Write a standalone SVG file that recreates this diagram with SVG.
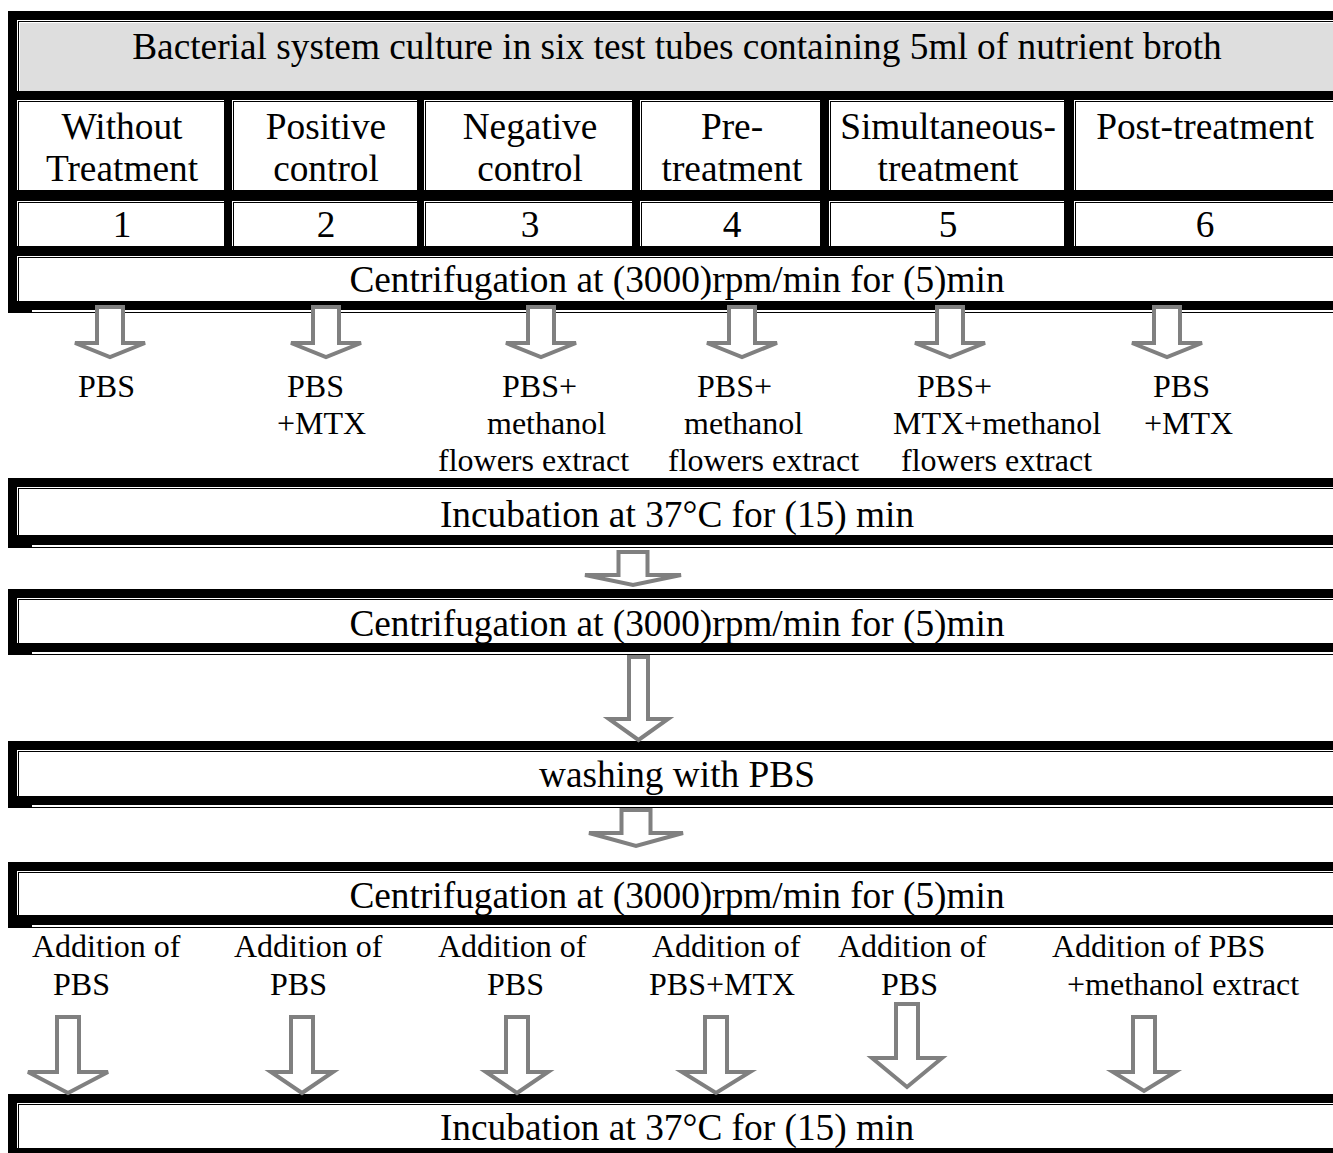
<svg xmlns="http://www.w3.org/2000/svg" width="1333" height="1153" viewBox="0 0 1333 1153">
<style>
.k{fill:#000}.w{fill:#fff}.g{fill:#dedede}
.t{font-family:"Liberation Serif","Times New Roman",serif;font-size:37.33px;fill:#000;text-anchor:middle}
.s{font-family:"Liberation Serif","Times New Roman",serif;font-size:32px;fill:#000}
.arr{fill:#fff;stroke:#808080;stroke-width:4}
</style>
<rect width="1333" height="1153" fill="#fff"/>
<g id="table-top">
<rect class="k" x="8" y="11" width="1332" height="299"/>
<rect class="k" x="8" y="310" width="24" height="3"/>
<rect class="k" x="32" y="312" width="1308" height="1"/>
<g id="header">
<rect class="w" x="17" y="20" width="1323" height="71"/><rect class="k" x="18" y="21" width="1322" height="70"/><rect class="w" x="19" y="22" width="1321" height="69"/><rect class="g" x="20" y="23" width="1320" height="68"/>
<text class="t" x="677" y="59">Bacterial system culture in six test tubes containing 5ml of nutrient broth</text>
</g>
<g id="c1">
<rect class="w" x="17" y="100" width="207" height="90"/><rect class="k" x="18" y="101" width="206" height="89"/><rect class="w" x="19" y="102" width="205" height="88"/>
<text class="t" x="122" y="139">Without</text><text class="t" x="122" y="181">Treatment</text>
</g>
<g id="c2">
<rect class="w" x="232" y="100" width="185" height="90"/><rect class="k" x="233" y="101" width="184" height="89"/><rect class="w" x="234" y="102" width="183" height="88"/>
<text class="t" x="326" y="139">Positive</text><text class="t" x="326" y="181">control</text>
</g>
<g id="c3">
<rect class="w" x="424" y="100" width="208" height="90"/><rect class="k" x="425" y="101" width="207" height="89"/><rect class="w" x="426" y="102" width="206" height="88"/>
<text class="t" x="530" y="139">Negative</text><text class="t" x="530" y="181">control</text>
</g>
<g id="c4">
<rect class="w" x="640" y="100" width="180" height="90"/><rect class="k" x="641" y="101" width="179" height="89"/><rect class="w" x="642" y="102" width="178" height="88"/>
<text class="t" x="732" y="139">Pre-</text><text class="t" x="732" y="181">treatment</text>
</g>
<g id="c5">
<rect class="w" x="829" y="100" width="235" height="90"/><rect class="k" x="830" y="101" width="234" height="89"/><rect class="w" x="831" y="102" width="233" height="88"/>
<text class="t" x="948" y="139">Simultaneous-</text><text class="t" x="948" y="181">treatment</text>
</g>
<g id="c6">
<rect class="w" x="1074" y="100" width="266" height="90"/><rect class="k" x="1075" y="101" width="265" height="89"/><rect class="w" x="1076" y="102" width="264" height="88"/>
<text class="t" x="1205" y="139">Post-treatment</text>
</g>
<g id="n1">
<rect class="w" x="17" y="201" width="207" height="45"/><rect class="k" x="18" y="202" width="206" height="44"/><rect class="w" x="19" y="203" width="205" height="43"/>
<text class="t" x="122" y="237">1</text>
</g>
<g id="n2">
<rect class="w" x="232" y="201" width="185" height="45"/><rect class="k" x="233" y="202" width="184" height="44"/><rect class="w" x="234" y="203" width="183" height="43"/>
<text class="t" x="326" y="237">2</text>
</g>
<g id="n3">
<rect class="w" x="424" y="201" width="208" height="45"/><rect class="k" x="425" y="202" width="207" height="44"/><rect class="w" x="426" y="203" width="206" height="43"/>
<text class="t" x="530" y="237">3</text>
</g>
<g id="n4">
<rect class="w" x="640" y="201" width="180" height="45"/><rect class="k" x="641" y="202" width="179" height="44"/><rect class="w" x="642" y="203" width="178" height="43"/>
<text class="t" x="732" y="237">4</text>
</g>
<g id="n5">
<rect class="w" x="829" y="201" width="235" height="45"/><rect class="k" x="830" y="202" width="234" height="44"/><rect class="w" x="831" y="203" width="233" height="43"/>
<text class="t" x="948" y="237">5</text>
</g>
<g id="n6">
<rect class="w" x="1074" y="201" width="266" height="45"/><rect class="k" x="1075" y="202" width="265" height="44"/><rect class="w" x="1076" y="203" width="264" height="43"/>
<text class="t" x="1205" y="237">6</text>
</g>
<g id="centrifuge1">
<rect class="w" x="17" y="256" width="1323" height="45"/><rect class="k" x="18" y="257" width="1322" height="44"/><rect class="w" x="19" y="258" width="1321" height="43"/>
<text class="t" x="677" y="292">Centrifugation at (3000)rpm/min for (5)min</text>
</g>
</g>
<g id="incubation1">
<rect class="k" x="8" y="478" width="1332" height="67"/>
<rect class="w" x="17" y="487" width="1323" height="48"/><rect class="k" x="18" y="488" width="1322" height="47"/><rect class="w" x="19" y="489" width="1321" height="46"/>
<rect class="k" x="8" y="545" width="24" height="3"/><rect class="k" x="32" y="547" width="1308" height="1"/>
<text class="t" x="677" y="527">Incubation at 37°C for (15) min</text>
</g>
<g id="centrifuge2">
<rect class="k" x="8" y="589" width="1332" height="63"/>
<rect class="w" x="17" y="598" width="1323" height="45"/><rect class="k" x="18" y="599" width="1322" height="44"/><rect class="w" x="19" y="600" width="1321" height="43"/>
<rect class="k" x="8" y="652" width="24" height="3"/><rect class="k" x="32" y="654" width="1308" height="1"/>
<text class="t" x="677" y="636">Centrifugation at (3000)rpm/min for (5)min</text>
</g>
<g id="washing">
<rect class="k" x="8" y="741" width="1332" height="64"/>
<rect class="w" x="17" y="750" width="1323" height="46"/><rect class="k" x="18" y="751" width="1322" height="45"/><rect class="w" x="19" y="752" width="1321" height="44"/>
<rect class="k" x="8" y="805" width="24" height="3"/><rect class="k" x="32" y="807" width="1308" height="1"/>
<text class="t" x="677" y="787">washing with PBS</text>
</g>
<g id="centrifuge3">
<rect class="k" x="8" y="862" width="1332" height="63"/>
<rect class="w" x="17" y="871" width="1323" height="44"/><rect class="k" x="18" y="872" width="1322" height="43"/><rect class="w" x="19" y="873" width="1321" height="42"/>
<rect class="k" x="8" y="925" width="24" height="3"/><rect class="k" x="32" y="927" width="1308" height="1"/>
<text class="t" x="677" y="908">Centrifugation at (3000)rpm/min for (5)min</text>
</g>
<g id="incubation2">
<rect class="k" x="8" y="1094" width="1332" height="66"/>
<rect class="w" x="17" y="1103" width="1323" height="45"/><rect class="k" x="18" y="1104" width="1322" height="44"/><rect class="w" x="19" y="1105" width="1321" height="43"/>
<text class="t" x="677" y="1140">Incubation at 37°C for (15) min</text>
</g>
<g id="labels-1">
<text class="s" x="78" y="397">PBS</text>
<text class="s" x="287" y="397">PBS</text><text class="s" x="277" y="434">+MTX</text>
<text class="s" x="502" y="397">PBS+</text><text class="s" x="487" y="434">methanol</text><text class="s" x="438" y="471">flowers extract</text>
<text class="s" x="697" y="397">PBS+</text><text class="s" x="684" y="434">methanol</text><text class="s" x="668" y="471">flowers extract</text>
<text class="s" x="917" y="397">PBS+</text><text class="s" x="893" y="434">MTX+methanol</text><text class="s" x="901" y="471">flowers extract</text>
<text class="s" x="1153" y="397">PBS</text><text class="s" x="1144" y="434">+MTX</text>
</g>
<g id="labels-2">
<text class="s" x="32" y="957">Addition of</text><text class="s" x="53" y="995">PBS</text>
<text class="s" x="234" y="957">Addition of</text><text class="s" x="270" y="995">PBS</text>
<text class="s" x="438" y="957">Addition of</text><text class="s" x="487" y="995">PBS</text>
<text class="s" x="652" y="957">Addition of</text><text class="s" x="649" y="995">PBS+MTX</text>
<text class="s" x="838" y="957">Addition of</text><text class="s" x="881" y="995">PBS</text>
<text class="s" x="1052" y="957">Addition of PBS</text><text class="s" x="1067" y="995">+methanol extract</text>
</g>
<g id="connectors">
<path class="arr" d="M97,307 H123 V343 H145 L110,357 L75,343 H97 Z"/>
<path class="arr" d="M313,307 H339 V343 H361 L326,357 L291,343 H313 Z"/>
<path class="arr" d="M528,307 H554 V343 H576 L541,357 L506,343 H528 Z"/>
<path class="arr" d="M729,307 H755 V343 H777 L742,357 L707,343 H729 Z"/>
<path class="arr" d="M937,307 H963 V343 H985 L950,357 L915,343 H937 Z"/>
<path class="arr" d="M1154,307 H1180 V343 H1202 L1167,357 L1132,343 H1154 Z"/>
<path class="arr" d="M618.5,552 H647.5 V575 H681 L633,585 L585,575 H618.5 Z"/>
<path class="arr" d="M629,657 H648 V719 H668 L638.5,740 L609,719 H629 Z"/>
<path class="arr" d="M621.5,810 H650.5 V833 H683 L636,846 L589,833 H621.5 Z"/>
<path class="arr" d="M57,1017 H79 V1072 H108 L68,1093 L28,1072 H57 Z"/>
<path class="arr" d="M291,1017 H313 V1072 H333 L302,1093 L271,1072 H291 Z"/>
<path class="arr" d="M506,1017 H528 V1072 H548 L517,1093 L486,1072 H506 Z"/>
<path class="arr" d="M705,1017 H727 V1072 H750 L716,1093 L682,1072 H705 Z"/>
<path class="arr" d="M896,1004 H918 V1058 H942 L907,1087 L872,1058 H896 Z"/>
<path class="arr" d="M1133,1017 H1155 V1072 H1175 L1144,1091 L1113,1072 H1133 Z"/>
</g>
</svg>
